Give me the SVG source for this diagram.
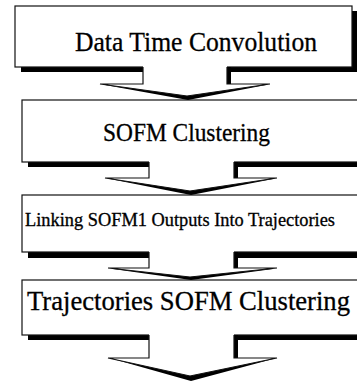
<svg xmlns="http://www.w3.org/2000/svg" width="357" height="383" viewBox="0 0 357 383">
<style>
.sh{fill:#000}
.bx{fill:#fff;stroke:#111;stroke-width:1.2}
.cf{fill:#fff;stroke:none}
.cs{fill:none;stroke:#111;stroke-width:1.2;stroke-linejoin:miter}
.t{font-family:"Liberation Serif","Times New Roman",serif;fill:#000;stroke:#000;stroke-width:0.3}
</style>
<rect width="357" height="383" fill="#fff"/>
<g id="node1">
<rect class="sh" x="21" y="11" width="336" height="61"/>
<rect class="bx" x="15" y="6" width="337" height="61"/>
<text class="t" x="75" y="51" font-size="28" textLength="242" lengthAdjust="spacingAndGlyphs">Data Time Convolution</text>
</g>
<g id="node2">
<rect class="sh" x="28" y="105" width="340" height="62"/>
<rect class="bx" x="22" y="100" width="340" height="62"/>
<text class="t" x="103" y="141" font-size="25" textLength="167" lengthAdjust="spacingAndGlyphs">SOFM Clustering</text>
</g>
<g id="node3">
<rect class="sh" x="28" y="200" width="340" height="58"/>
<rect class="bx" x="22" y="195" width="340" height="57"/>
<text class="t" x="25" y="226" font-size="18" textLength="310" lengthAdjust="spacingAndGlyphs">Linking SOFM1  Outputs Into Trajectories</text>
</g>
<g id="node4">
<rect class="sh" x="28" y="285" width="340" height="55"/>
<rect class="bx" x="22" y="280" width="340" height="55"/>
<text class="t" x="27" y="310" font-size="27" textLength="323" lengthAdjust="spacingAndGlyphs">Trajectories SOFM Clustering</text>
</g>
<g id="connectors">
<g id="c1">
<polygon class="sh" points="143,67 231,67 231,85 266,85 188,100 105,85 105,84 143,84"/>
<polygon class="cf" points="143,66 227,66 227,84 270,84 187,96 100,84 143,84"/>
<path class="cs" d="M143 67 V84 H100 L187 96 L270 84 H227 V67"/>
</g>
<g id="c2">
<polygon class="sh" points="149,162 238,162 238,179 273,179 191,195 110,179 110,178 149,178"/>
<polygon class="cf" points="149,161 234,161 234,178 277,178 190,191 105,178 149,178"/>
<path class="cs" d="M149 162 V178 H105 L190 191 L277 178 H234 V162"/>
</g>
<g id="c3">
<polygon class="sh" points="149,252 238,252 238,269 273,269 191,280 113,269 113,268 149,268"/>
<polygon class="cf" points="149,251 234,251 234,268 277,268 190,277 108,268 149,268"/>
<path class="cs" d="M149 252 V268 H108 L190 277 L277 268 H234 V252"/>
</g>
<g id="c4">
<polygon class="sh" points="149,335 238,335 238,359 273,359 191,381 113,359 113,358 149,358"/>
<polygon class="cf" points="149,334 234,334 234,358 277,358 190,376 108,358 149,358"/>
<path class="cs" d="M149 335 V358 H108 L190 376 L277 358 H234 V335"/>
</g>
</g>
</svg>
